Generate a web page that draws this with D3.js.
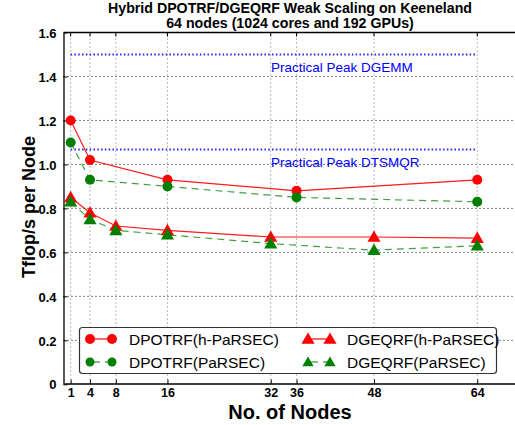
<!DOCTYPE html>
<html><head><meta charset="utf-8">
<script src="https://cdn.jsdelivr.net/npm/d3@7"></script>
<style>body{margin:0;background:#fff}svg{display:block}text{font-family:"Liberation Sans",Arial,Helvetica,sans-serif}</style>
</head><body><svg id="c" width="515" height="425"></svg>
<script>
const xTicks = [1, 4, 8, 16, 32, 36, 48, 64];
const yTicks = [0, 0.2, 0.4, 0.6, 0.8, 1.0, 1.2, 1.4, 1.6];
const nodesPotrf = [1, 4, 16, 36, 64];
const potrfH = [1.20, 1.02, 0.93, 0.88, 0.93];
const potrfP = [1.10, 0.93, 0.90, 0.85, 0.83];
const nodesGeqrf = [1, 4, 8, 16, 32, 48, 64];
const geqrfH = [0.85, 0.78, 0.72, 0.70, 0.67, 0.67, 0.665];
const geqrfP = [0.83, 0.75, 0.70, 0.68, 0.64, 0.61, 0.63];
const peakValues = [1.5, 1.068];
const peakLabels = ["Practical Peak DGEMM", "Practical Peak DTSMQR"];
const titleLines = ["Hybrid DPOTRF/DGEQRF Weak Scaling on Keeneland", "64 nodes (1024 cores and 192 GPUs)"];

const series = [
  {name: "DPOTRF(h-PaRSEC)", x: nodesPotrf, y: potrfH, color: "#ff0000", dash: null, shape: "circle"},
  {name: "DPOTRF(PaRSEC)", x: nodesPotrf, y: potrfP, color: "#008000", dash: "7,5", shape: "circle"},
  {name: "DGEQRF(h-PaRSEC)", x: nodesGeqrf, y: geqrfH, color: "#ff0000", dash: null, shape: "triangle"},
  {name: "DGEQRF(PaRSEC)", x: nodesGeqrf, y: geqrfP, color: "#008000", dash: "7,5", shape: "triangle"}
];

const svg = d3.select("#c");
const L = 63.5, R = 516, T = 32.5, B = 383.5;
const x = d3.scaleLinear().domain([0, 70]).range([L + 0.7, R]);
const y = d3.scaleLinear().domain([0, 1.6]).range([B + 0.8, T]);

// grid
const g = svg.append("g");
g.selectAll(".vg").data(xTicks).join("line")
  .attr("x1", d => x(d)).attr("x2", d => x(d)).attr("y1", B).attr("y2", T)
  .attr("stroke", "#777").attr("stroke-width", 1).attr("stroke-dasharray", "1,3");
g.selectAll(".hg").data(yTicks.slice(1, -1)).join("line")
  .attr("x1", L).attr("x2", R).attr("y1", d => y(d)).attr("y2", d => y(d))
  .attr("stroke", "#000").attr("stroke-width", 1).attr("stroke-dasharray", "1,3");

// axes
const xa = svg.append("g").attr("transform", `translate(0,${B})`)
  .call(d3.axisBottom(x).tickValues(xTicks).tickSize(-4).tickPadding(4.5).tickSizeOuter(0));
const ya = svg.append("g").attr("transform", `translate(${L},0)`)
  .call(d3.axisLeft(y).tickValues(yTicks).tickSize(-4).tickPadding(7).tickSizeOuter(0)
    .tickFormat(d => d === 0 ? "0" : d3.format(".1f")(d)));
[xa, ya].forEach(a => {
  a.selectAll("text").attr("font-size", 13).attr("font-weight", "bold").attr("fill", "#000")
    .style("font-family", "'Liberation Sans',Arial,sans-serif");
  a.select(".domain").attr("stroke", "#000").attr("stroke-width", 1.3);
  a.selectAll(".tick line").attr("stroke", "#000");
});
xa.selectAll("text").attr("font-size", 12.5);
ya.selectAll("text").attr("dy", "0.36em");
svg.append("line").attr("x1", L).attr("x2", R).attr("y1", T).attr("y2", T).attr("stroke", "#000").attr("stroke-width", 1.3);
svg.selectAll(".tt").data(xTicks).join("line").attr("x1", d => x(d)).attr("x2", d => x(d))
  .attr("y1", T).attr("y2", T + 4).attr("stroke", "#000");

// peak lines
peakValues.forEach((v, i) => {
  svg.append("line").attr("x1", x(1)).attr("x2", x(64)).attr("y1", y(v)).attr("y2", y(v))
    .attr("stroke", "#0000ff").attr("stroke-width", 2).attr("stroke-dasharray", "1.5,2.3").attr("opacity", 0.85);
  svg.append("text").attr("x", 271).attr("y", y(v) + 18).attr("font-size", 13.5).attr("fill", "#0000ff")
    .text(peakLabels[i]);
});

function marker(sel, shape, color, cx, cy, small) {
  if (shape === "circle") {
    sel.append("circle").attr("cx", cx).attr("cy", cy).attr("r", small ? 4.5 : 5).attr("fill", color);
  } else {
    sel.append("path").attr("d", d3.symbol().type(d3.symbolTriangle).size(small ? 55 : 75)())
      .attr("transform", `translate(${cx},${cy + 1})`).attr("fill", color);
  }
}

const line = d3.line().x(d => x(d[0])).y(d => y(d[1]));
series.forEach(s => {
  const pts = s.x.map((v, i) => [v, s.y[i]]);
  svg.append("path").attr("d", line(pts)).attr("fill", "none").attr("stroke", s.color)
    .attr("stroke-width", 1.2).attr("stroke-dasharray", s.dash).attr("opacity", s.dash ? 0.75 : 0.9);
});
series.forEach(s => {
  const gg = svg.append("g");
  s.x.forEach((v, i) => marker(gg, s.shape, s.color, x(v), y(s.y[i]), false));
});

// title
svg.append("text").attr("x", 290).attr("y", 12.5).attr("text-anchor", "middle").attr("font-size", 14.2)
  .attr("font-weight", "bold").text(titleLines[0]);
svg.append("text").attr("x", 290).attr("y", 28.3).attr("text-anchor", "middle").attr("font-size", 14.2)
  .attr("font-weight", "bold").text(titleLines[1]);

// axis labels
svg.append("text").attr("x", 290).attr("y", 418.5).attr("text-anchor", "middle").attr("font-size", 20)
  .attr("font-weight", "bold").text("No. of Nodes");
svg.append("text").attr("transform", "translate(35,207) rotate(-90)").attr("text-anchor", "middle")
  .attr("font-size", 18).attr("font-weight", "bold").text("Tflop/s per Node");

// legend
const lg = svg.append("g");
lg.append("rect").attr("x", 79.5).attr("y", 327.5).attr("width", 417).attr("height", 46).attr("rx", 3)
  .attr("fill", "#fff").attr("stroke", "#333").attr("stroke-width", 1.2);
const cols = [[90, 112, 129], [308, 330, 347]];
const rows = [339, 362];
series.forEach((s, i) => {
  const c = cols[Math.floor(i / 2)], r = rows[i % 2];
  lg.append("line").attr("x1", c[0]).attr("x2", c[1]).attr("y1", r).attr("y2", r)
    .attr("stroke", s.color).attr("stroke-width", 1.2).attr("stroke-dasharray", s.dash ? "7,5" : null)
    .attr("stroke-dashoffset", s.dash ? -3 : 0);
  marker(lg, s.shape, s.color, c[0], r, s.dash !== null);
  marker(lg, s.shape, s.color, c[1], r, s.dash !== null);
  lg.append("text").attr("x", c[2]).attr("y", r + 5.5).attr("font-size", 15.5).text(s.name);
});
</script></body></html>
